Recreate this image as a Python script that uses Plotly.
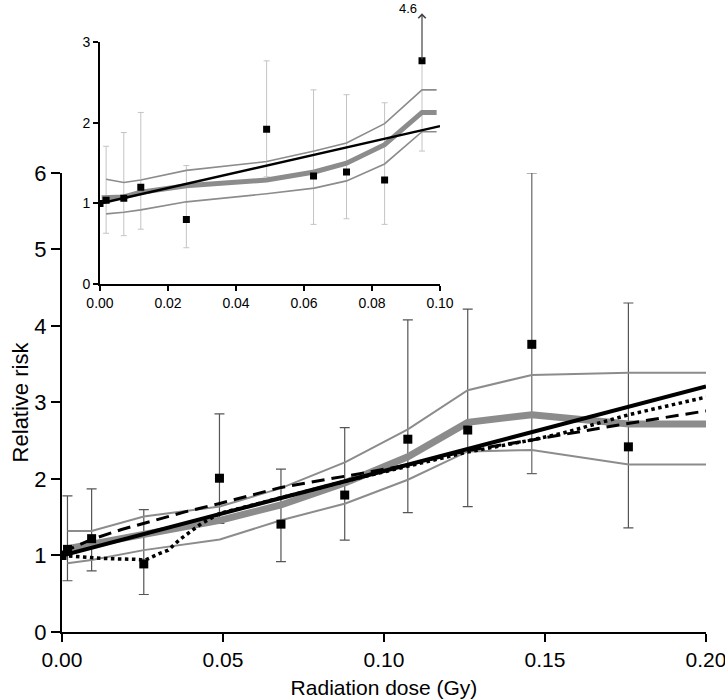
import plotly.graph_objects as go

# ---------------- main panel data ----------------
dose_pts = [0.0, 0.0017, 0.0092, 0.0254, 0.0489, 0.068, 0.0878, 0.1074, 0.126, 0.1459, 0.1759]
rr_pts = [1.0, 1.08, 1.22, 0.89, 2.01, 1.41, 1.79, 2.52, 2.64, 3.76, 2.42]
rr_hi = [1.0, 1.78, 1.87, 1.60, 2.85, 2.13, 2.67, 4.08, 4.22, 6.0, 4.30]
rr_lo = [1.0, 0.67, 0.80, 0.49, 1.42, 0.92, 1.20, 1.56, 1.64, 2.07, 1.36]

band_x = [0.0017, 0.0092, 0.0254, 0.049, 0.068, 0.088, 0.1074, 0.126, 0.1459, 0.176, 0.2]
band_upper = [1.32, 1.32, 1.51, 1.64, 1.88, 2.22, 2.65, 3.16, 3.36, 3.39, 3.39]
band_lower = [0.90, 0.94, 1.07, 1.21, 1.46, 1.68, 1.99, 2.36, 2.38, 2.19, 2.19]
band_mid = [1.09, 1.15, 1.27, 1.46, 1.66, 1.95, 2.29, 2.74, 2.84, 2.72, 2.72]

linear_x = [0.0, 0.2]
linear_y = [1.0, 3.21]

dash_x = [0.0, 0.0092, 0.0185, 0.0279, 0.0382, 0.049, 0.068, 0.0925, 0.107, 0.127, 0.146, 0.172, 0.2]
dash_y = [1.04, 1.21, 1.34, 1.45, 1.57, 1.68, 1.89, 2.07, 2.18, 2.38, 2.51, 2.70, 2.89]

dot_x = [0.0, 0.004, 0.0134, 0.0227, 0.0258, 0.030, 0.033, 0.0366, 0.0403, 0.0434, 0.049,
         0.068, 0.088, 0.0957, 0.1074, 0.1257, 0.1459, 0.1556, 0.176, 0.2]
dot_y = [1.0, 0.99, 0.96, 0.95, 0.94, 1.02, 1.07, 1.21, 1.33, 1.42, 1.55,
         1.76, 1.97, 2.05, 2.17, 2.35, 2.51, 2.60, 2.84, 3.07]

main_xticks = [0.0, 0.05, 0.10, 0.15, 0.20]
main_xticklabels = ["0.00", "0.05", "0.10", "0.15", "0.20"]
main_yticks = [0, 1, 2, 3, 4, 5, 6]

# ---------------- inset data ----------------
in_dose = [0.0, 0.0018, 0.007, 0.012, 0.0254, 0.049, 0.0628, 0.0725, 0.0837, 0.0947]
in_rr = [1.0, 1.04, 1.065, 1.20, 0.80, 1.92, 1.34, 1.39, 1.29, 2.77]
in_hi = [1.0, 1.71, 1.88, 2.13, 1.47, 2.77, 2.41, 2.35, 2.25, 2.77]
in_lo = [1.0, 0.63, 0.60, 0.68, 0.45, 1.33, 0.74, 0.81, 0.74, 1.65]
in_off_scale_value = 4.6
in_arrow_top = 3.36

in_band_x = [0.0018, 0.007, 0.012, 0.0254, 0.049, 0.063, 0.0725, 0.0837, 0.0947, 0.099]
in_band_upper = [1.30, 1.26, 1.29, 1.41, 1.52, 1.65, 1.75, 1.99, 2.41, 2.41]
in_band_lower = [0.87, 0.89, 0.92, 1.02, 1.12, 1.19, 1.28, 1.49, 1.89, 1.89]
in_band_mid_x = [0.0005, 0.007, 0.012, 0.0254, 0.049, 0.063, 0.0725, 0.0837, 0.0947, 0.099]
in_band_mid = [1.07, 1.08, 1.14, 1.22, 1.29, 1.39, 1.50, 1.73, 2.13, 2.13]

in_linear_x = [0.0, 0.1]
in_linear_y = [1.0, 1.96]

in_xticks = [0.0, 0.02, 0.04, 0.06, 0.08, 0.10]
in_xticklabels = ["0.00", "0.02", "0.04", "0.06", "0.08", "0.10"]
in_yticks = [0, 1, 2, 3]

FONT = "Arial, Liberation Sans, sans-serif"

# inset placement (paper fractions)
IN_XDOM = [0.0590, 0.5870]
IN_YDOM = [0.5595, 0.948]
IN_XRANGE = [0, 0.1]
IN_YRANGE = [0, 3]

fig = go.Figure()

# ---- main: error bars (normal) ----
idx_cap = [i for i in range(1, len(dose_pts)) if i != 9]
fig.add_trace(go.Scatter(
    x=[dose_pts[i] for i in idx_cap], y=[rr_pts[i] for i in idx_cap], mode="markers",
    marker=dict(opacity=0, size=2),
    error_y=dict(type="data", symmetric=False,
                 array=[rr_hi[i] - rr_pts[i] for i in idx_cap],
                 arrayminus=[rr_pts[i] - rr_lo[i] for i in idx_cap],
                 color="#555555", thickness=1.2, width=5),
    showlegend=False, hoverinfo="skip", xaxis="x", yaxis="y"))
# error bar running off the top (no cap)
fig.add_trace(go.Scatter(
    x=[dose_pts[9]], y=[rr_pts[9]], mode="markers", marker=dict(opacity=0, size=2),
    error_y=dict(type="data", symmetric=False, array=[rr_hi[9] - rr_pts[9]],
                 arrayminus=[rr_pts[9] - rr_lo[9]], color="#666666", thickness=1.2, width=5),
    showlegend=False, hoverinfo="skip", xaxis="x", yaxis="y"))

for yy in (band_upper, band_lower):
    fig.add_trace(go.Scatter(x=band_x, y=yy, mode="lines",
                             line=dict(color="#8c8c8c", width=2), showlegend=False,
                             xaxis="x", yaxis="y"))
fig.add_trace(go.Scatter(x=band_x, y=band_mid, mode="lines",
                         line=dict(color="#8c8c8c", width=7), showlegend=False,
                         xaxis="x", yaxis="y"))
fig.add_trace(go.Scatter(x=dash_x, y=dash_y, mode="lines",
                         line=dict(color="black", width=3, dash="13px,7px"), showlegend=False,
                         xaxis="x", yaxis="y"))
fig.add_trace(go.Scatter(x=dot_x, y=dot_y, mode="lines",
                         line=dict(color="black", width=3.5, dash="dot"), showlegend=False,
                         xaxis="x", yaxis="y"))
fig.add_trace(go.Scatter(x=linear_x, y=linear_y, mode="lines",
                         line=dict(color="black", width=4), showlegend=False,
                         xaxis="x", yaxis="y"))
fig.add_trace(go.Scatter(x=dose_pts, y=rr_pts, mode="markers",
                         marker=dict(symbol="square", color="black", size=9),
                         showlegend=False, xaxis="x", yaxis="y"))

# ---- inset ----
fig.add_trace(go.Scatter(
    x=in_dose[1:], y=in_rr[1:], mode="markers", marker=dict(opacity=0, size=2),
    error_y=dict(type="data", symmetric=False,
                 array=[h - r for h, r in zip(in_hi[1:], in_rr[1:])],
                 arrayminus=[r - l for r, l in zip(in_rr[1:], in_lo[1:])],
                 color="#c4c4c4", thickness=1, width=3),
    showlegend=False, hoverinfo="skip", xaxis="x2", yaxis="y2"))
for yy in (in_band_upper, in_band_lower):
    fig.add_trace(go.Scatter(x=in_band_x, y=yy, mode="lines",
                             line=dict(color="#8c8c8c", width=1.6), showlegend=False,
                             xaxis="x2", yaxis="y2"))
fig.add_trace(go.Scatter(x=in_band_mid_x, y=in_band_mid, mode="lines",
                         line=dict(color="#8c8c8c", width=5), showlegend=False,
                         xaxis="x2", yaxis="y2"))
fig.add_trace(go.Scatter(x=in_linear_x, y=in_linear_y, mode="lines",
                         line=dict(color="black", width=2.5), showlegend=False,
                         xaxis="x2", yaxis="y2"))
fig.add_trace(go.Scatter(x=in_dose, y=in_rr, mode="markers",
                         marker=dict(symbol="square", color="black", size=7),
                         showlegend=False, xaxis="x2", yaxis="y2"))

fig.add_annotation(x=in_dose[-1], y=in_arrow_top, ax=in_dose[-1], ay=in_rr[-1],
                   xref="x2", yref="y2", axref="x2", ayref="y2", text="",
                   showarrow=True, arrowhead=4, arrowsize=1.2, arrowwidth=1.2,
                   arrowcolor="#444444")
# label of the off-scale value, positioned in paper units from the inset's scale
lab_x = IN_XDOM[0] + (in_dose[-1] - IN_XRANGE[0]) / (IN_XRANGE[1] - IN_XRANGE[0]) * (IN_XDOM[1] - IN_XDOM[0])
lab_y = IN_YDOM[0] + (in_arrow_top - IN_YRANGE[0]) / (IN_YRANGE[1] - IN_YRANGE[0]) * (IN_YDOM[1] - IN_YDOM[0])
fig.add_annotation(x=lab_x, y=lab_y, xref="paper", yref="paper",
                   text=str(in_off_scale_value), showarrow=False,
                   xanchor="right", yanchor="middle", xshift=-3, yshift=5,
                   font=dict(family=FONT, size=13, color="black"))

axis_common = dict(showline=True, linecolor="black", showgrid=False, zeroline=False,
                   ticks="outside", tickcolor="black", automargin=False)

fig.update_layout(
    width=725, height=700,
    margin=dict(l=62, r=19, t=10, b=68, autoexpand=False),
    paper_bgcolor="white", plot_bgcolor="rgba(0,0,0,0)",
    font=dict(family=FONT, color="black"),
    xaxis=dict(**axis_common, domain=[0, 1], range=[0, 0.2], linewidth=2, tickwidth=2,
               ticklen=8, tickvals=main_xticks, ticktext=main_xticklabels,
               tickfont=dict(size=21), ticklabeloverflow="allow",
               title=dict(text="Radiation dose (Gy)", font=dict(size=21), standoff=10),
               anchor="y"),
    yaxis=dict(**axis_common, domain=[0, 0.738], range=[0, 6], linewidth=2, tickwidth=2,
               ticklen=9, tickvals=main_yticks, tickfont=dict(size=22),
               title=dict(text="Relative risk", font=dict(size=22), standoff=0),
               anchor="x"),
    xaxis2=dict(**axis_common, domain=IN_XDOM, range=IN_XRANGE, linewidth=2,
                tickwidth=1.5, ticklen=5, tickvals=in_xticks, ticktext=in_xticklabels,
                tickfont=dict(size=14), anchor="y2"),
    yaxis2=dict(**axis_common, domain=IN_YDOM, range=IN_YRANGE, linewidth=2,
                tickwidth=1.5, ticklen=5, tickvals=in_yticks, tickfont=dict(size=14),
                anchor="x2"),
)

# remove the default page margin so the 725x700 figure fills the window exactly
fig.write_html("out.html", config={"displayModeBar": False},
               post_script="document.body.style.margin='0px';document.body.style.overflow='hidden';")
